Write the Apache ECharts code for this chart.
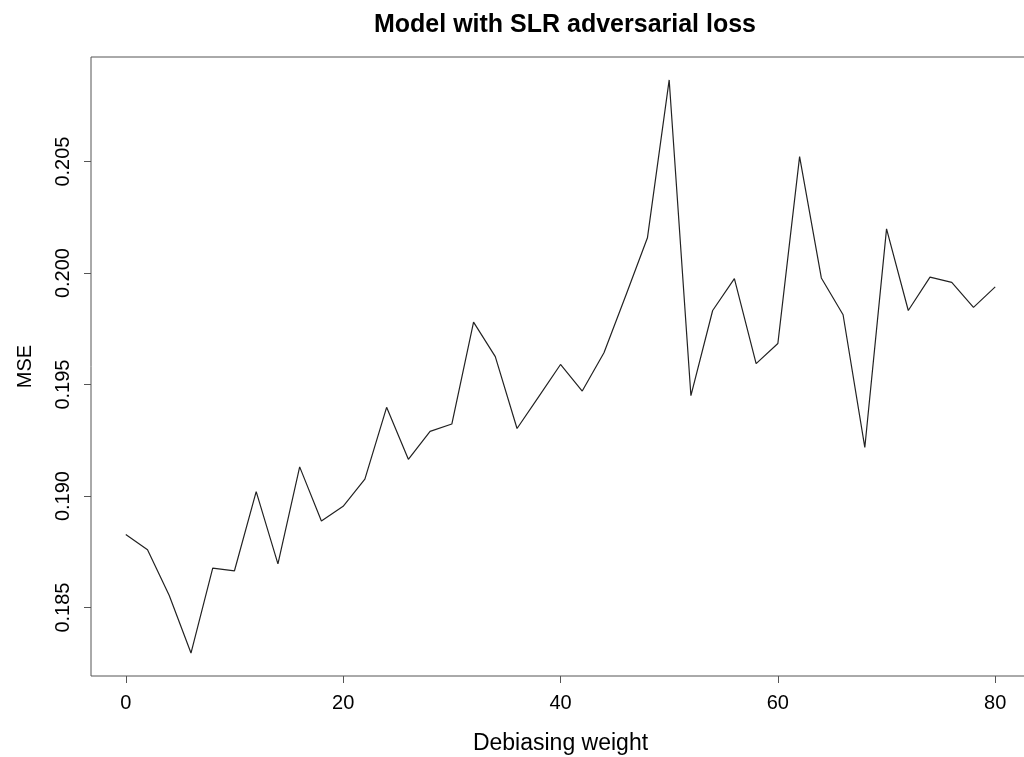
<!DOCTYPE html>
<html>
<head>
<meta charset="utf-8">
<script src="https://cdn.jsdelivr.net/npm/echarts@6/dist/echarts.min.js"></script>
<style>
  html, body { margin: 0; padding: 0; background: #fff; }
  #chart { width: 1024px; height: 757px; }
</style>
</head>
<body>
<div id="chart"></div>
<script>
const weights = [0, 2, 4, 6, 8, 10, 12, 14, 16, 18, 20,
  22, 24, 26, 28, 30, 32, 34, 36, 38, 40,
  42, 44, 46, 48, 50, 52, 54, 56, 58, 60,
  62, 64, 66, 68, 70, 72, 74, 76, 78, 80];
const mse = [0.18828, 0.18759, 0.18554, 0.18296, 0.18677, 0.18665, 0.19020, 0.18696, 0.19131, 0.18888, 0.18954,
  0.19076, 0.19398, 0.19165, 0.19290, 0.19323, 0.19780, 0.19625, 0.19303, 0.19446, 0.19590,
  0.19471, 0.19643, 0.19898, 0.20158, 0.20866, 0.19450, 0.19832, 0.19975, 0.19594, 0.19684,
  0.20522, 0.19978, 0.19813, 0.19218, 0.20198, 0.19832, 0.19982, 0.19958, 0.19846, 0.19938];
const xTicks = [0, 20, 40, 60, 80];
const yTicks = [0.185, 0.190, 0.195, 0.200, 0.205];
const titleText = 'Model with SLR adversarial loss';
const xName = 'Debiasing weight';
const yName = 'MSE';

// R-style 4% range extension
const xMinD = Math.min(...weights), xMaxD = Math.max(...weights);
const yMinD = Math.min(...mse), yMaxD = Math.max(...mse);
const xPad = (xMaxD - xMinD) * 0.04, yPad = (yMaxD - yMinD) * 0.04;

const font = "'Liberation Sans', Arial, Helvetica, sans-serif";
const chart = echarts.init(document.getElementById('chart'));
chart.setOption({
  animation: false,
  backgroundColor: '#ffffff',
  title: {
    text: titleText,
    left: 560,
    textAlign: 'center',
    top: 8,
    textStyle: { fontFamily: font, fontSize: 25, fontWeight: 'bold', color: '#000' }
  },
  grid: {
    left: 91, top: 57, width: 939, height: 619,
    outerBoundsMode: 'none', containLabel: false,
    show: true, borderColor: '#555', borderWidth: 1, backgroundColor: 'transparent'
  },
  xAxis: {
    type: 'value',
    min: xMinD - xPad, max: xMaxD + xPad,
    name: xName, nameLocation: 'middle', nameGap: 56,
    nameTextStyle: { fontFamily: font, fontSize: 23, color: '#000' },
    axisLine: { show: false, onZero: false },
    splitLine: { show: false },
    axisTick: { show: true, customValues: xTicks, length: 7, inside: false, lineStyle: { color: '#555', width: 1 } },
    axisLabel: { customValues: xTicks, margin: 17, fontFamily: font, fontSize: 20, color: '#000' }
  },
  yAxis: {
    type: 'value',
    min: yMinD - yPad, max: yMaxD + yPad,
    name: yName, nameLocation: 'middle', nameGap: 56,
    nameTextStyle: { fontFamily: font, fontSize: 20, color: '#000' },
    axisLine: { show: false, onZero: false },
    splitLine: { show: false },
    axisTick: { show: true, customValues: yTicks, length: 7, lineStyle: { color: '#555', width: 1 } },
    axisLabel: {
      customValues: yTicks, rotate: 90, margin: 18,
      fontFamily: font, fontSize: 20, color: '#000',
      formatter: v => v.toFixed(3)
    }
  },
  series: [{
    type: 'line',
    data: weights.map((w, i) => [w, mse[i]]),
    symbol: 'none',
    lineStyle: { color: '#222', width: 1.2 },
    silent: true
  }]
});
</script>
</body>
</html>
